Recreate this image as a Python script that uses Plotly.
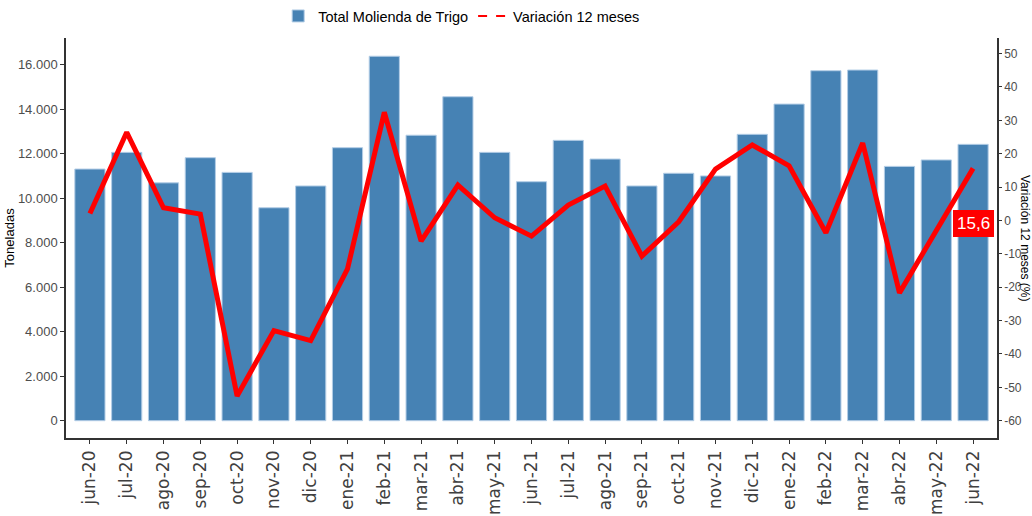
import plotly.graph_objects as go

months = ["jun-20", "jul-20", "ago-20", "sep-20", "oct-20", "nov-20", "dic-20",
          "ene-21", "feb-21", "mar-21", "abr-21", "may-21", "jun-21", "jul-21",
          "ago-21", "sep-21", "oct-21", "nov-21", "dic-21", "ene-22", "feb-22",
          "mar-22", "abr-22", "may-22", "jun-22"]

molienda = [11310, 12060, 10690, 11820, 11160, 9570, 10550,
            12270, 16380, 12830, 14560, 12060, 10740, 12600,
            11760, 10550, 11120, 11000, 12870, 14230, 15730,
            15760, 11430, 11720, 12420]

variacion = [2.1, 26.4, 3.8, 1.9, -52.6, -33.0, -36.0,
             -14.5, 32.4, -6.2, 10.6, 0.8, -4.7, 4.6,
             10.3, -10.7, -0.4, 15.4, 22.6, 16.4, -3.7,
             23.2, -21.7, -3.0, 15.6]

left_ticks = list(range(0, 16001, 2000))
right_ticks = list(range(-60, 51, 10))

REG = "Liberation Sans, Arial"

y1_range = [-778, 17200]
y2_range = [v / 150 - 60 for v in y1_range]

fig = go.Figure()
fig.add_trace(go.Bar(
    x=months, y=molienda, name="Total Molienda de Trigo",
    marker=dict(color="#4682B4", line=dict(color="#b3cde6", width=1)),
))
fig.add_trace(go.Scatter(
    x=months, y=variacion, yaxis="y2", mode="lines", showlegend=False,
    line=dict(color="#ff0000", width=5),
))
fig.add_trace(go.Scatter(
    x=[None], y=[None], yaxis="y2", mode="lines", name="Variación 12 meses",
    line=dict(color="#ff0000", width=2, dash="dash"),
))

fig.add_annotation(
    x=months[-1], y=-1, xref="x", yref="y2",
    text=("%.1f" % variacion[-1]).replace(".", ","),
    showarrow=False, bgcolor="#ff0000", bordercolor="#ff0000", borderpad=3,
    font=dict(family=REG, size=17, color="white"),
)
fig.add_annotation(
    x=1.0301, y=0.5, xref="paper", yref="paper", textangle=90,
    xanchor="center", yanchor="middle", borderpad=0,
    text="Variación 12 meses (%)", showarrow=False,
    font=dict(family=REG, size=12, color="black"),
)

fig.update_layout(
    width=1032, height=516,
    margin=dict(l=66, r=35, t=38, b=78, autoexpand=False),
    paper_bgcolor="white", plot_bgcolor="white",
    separators=",.",
    bargap=0.18,
    legend=dict(orientation="h", x=0.425, xanchor="center",
                y=1.0, yanchor="top", yref="container",
                font=dict(family=REG, size=14.5, color="black"),
                itemwidth=30, traceorder="normal"),
    xaxis=dict(
        type="category", range=[-0.65, 24.65], automargin=False,
        tickangle=-90, ticks="outside", ticklen=4, tickcolor="#333",
        showline=True, linecolor="#333", linewidth=1.5, mirror=False,
        tickfont=dict(family="DejaVu Sans", size=17, color="#404040"),
        showgrid=False,
    ),
    yaxis=dict(
        range=y1_range, tickvals=left_ticks, tickformat=",d", automargin=False,
        ticks="outside", ticklen=4, tickcolor="#333",
        showline=True, linecolor="#333", linewidth=1.5,
        tickfont=dict(family=REG, size=13, color="#4d4d4d"),
        showgrid=False, zeroline=False,
        title=dict(text="Toneladas", font=dict(family=REG, size=13, color="black"), standoff=0),
    ),
    yaxis2=dict(
        range=y2_range, overlaying="y", side="right", automargin=False,
        tickvals=right_ticks, ticktext=[str(v) for v in right_ticks],
        ticks="outside", ticklen=3, tickcolor="#333",
        showline=True, linecolor="#333", linewidth=1.5,
        tickfont=dict(family=REG, size=12, color="#4d4d4d"),
        showgrid=False, zeroline=False,
    ),
)

fig.write_html("out.html", config={"displayModeBar": False},
               post_script="document.body.style.margin='0';document.body.style.padding='0';")
